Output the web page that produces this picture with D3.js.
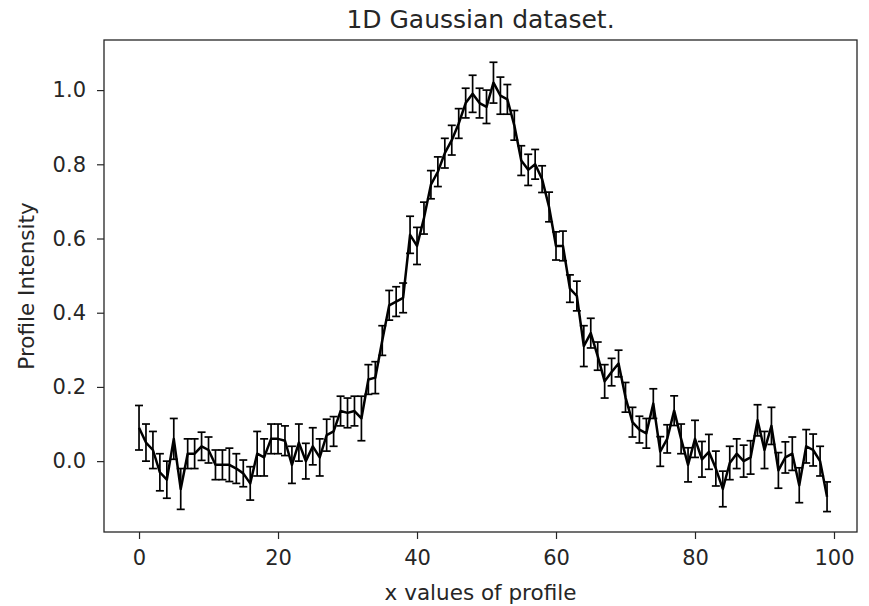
<!DOCTYPE html>
<html>
<head>
<meta charset="utf-8">
<script src="https://cdn.jsdelivr.net/npm/d3@7"></script>
<style>
  html, body { margin: 0; padding: 0; background: #fff; }
  svg { display: block; }
  text { font-family: "DejaVu Sans", sans-serif; fill: #262626; }
</style>
</head>
<body>
<svg id="chart" width="869" height="606"></svg>
<script>
// Profile positions (0..99)
const xValues = d3.range(100);

// Measured profile intensity at each position
const intensity = [
  0.09, 0.05, 0.03, -0.03, -0.05, 0.06, -0.075, 0.02, 0.02, 0.04,
  0.03, -0.01, -0.01, -0.01, -0.02, -0.033, -0.06, 0.02, 0.01, 0.06,
  0.06, 0.055, -0.01, 0.05, 0.0, 0.04, 0.01, 0.07, 0.08, 0.135,
  0.13, 0.135, 0.115, 0.22, 0.225, 0.325, 0.42, 0.43, 0.44, 0.61,
  0.58, 0.655, 0.745, 0.78, 0.83, 0.865, 0.91, 0.965, 0.99, 0.965,
  0.955, 1.02, 0.985, 0.975, 0.905, 0.81, 0.785, 0.80, 0.76, 0.685,
  0.58, 0.58, 0.465, 0.445, 0.31, 0.345, 0.283, 0.215, 0.24, 0.263,
  0.172, 0.105, 0.085, 0.075, 0.155, 0.026, 0.06, 0.136, 0.06, -0.01,
  0.06, 0.005, 0.025, -0.02, -0.075, -0.005, 0.02, 0.0, 0.01, 0.11,
  0.03, 0.095, -0.025, 0.01, 0.02, -0.065, 0.04, 0.03, 0.0, -0.096
];

// Symmetric uncertainty on each intensity
const errors = [
  0.06, 0.05, 0.05, 0.05, 0.05, 0.055, 0.055, 0.04, 0.04, 0.038,
  0.035, 0.04, 0.04, 0.045, 0.04, 0.036, 0.045, 0.06, 0.05, 0.04,
  0.04, 0.04, 0.05, 0.05, 0.048, 0.05, 0.05, 0.043, 0.04, 0.04,
  0.04, 0.04, 0.06, 0.04, 0.043, 0.04, 0.04, 0.04, 0.04, 0.05,
  0.05, 0.043, 0.038, 0.04, 0.04, 0.04, 0.04, 0.04, 0.05, 0.04,
  0.045, 0.055, 0.05, 0.04, 0.04, 0.04, 0.042, 0.04, 0.036, 0.04,
  0.038, 0.04, 0.037, 0.04, 0.055, 0.04, 0.038, 0.045, 0.037, 0.036,
  0.04, 0.04, 0.036, 0.04, 0.04, 0.04, 0.038, 0.04, 0.04, 0.046,
  0.05, 0.048, 0.047, 0.047, 0.048, 0.045, 0.04, 0.043, 0.045, 0.042,
  0.05, 0.05, 0.048, 0.042, 0.045, 0.047, 0.045, 0.043, 0.04, 0.04
];

const xTicks = [0, 20, 40, 60, 80, 100];
const yTicks = [0.0, 0.2, 0.4, 0.6, 0.8, 1.0];

const titleText = "1D Gaussian dataset.";
const xLabel = "x values of profile";
const yLabel = "Profile Intensity";

const data = xValues.map((x, i) => ({ x, y: intensity[i], e: errors[i] }));

const svg = d3.select("#chart");
const plot = { left: 104, top: 40, right: 857, bottom: 532 };

const x = d3.scaleLinear().domain([-5.04, 103.31]).range([plot.left, plot.right]);
const y = d3.scaleLinear().domain([-0.191, 1.135]).range([plot.bottom, plot.top]);

const tickFont = 21;
const labelFont = 21.5;

// Error bars with caps
const bars = svg.append("g").attr("stroke", "#000").attr("stroke-width", 1.7).attr("fill", "none");
const cap = 4;
bars.selectAll("line.err").data(data).join("line")
  .attr("class", "err")
  .attr("x1", d => x(d.x)).attr("x2", d => x(d.x))
  .attr("y1", d => y(d.y - d.e)).attr("y2", d => y(d.y + d.e));
bars.selectAll("line.capTop").data(data).join("line")
  .attr("class", "capTop")
  .attr("x1", d => x(d.x) - cap).attr("x2", d => x(d.x) + cap)
  .attr("y1", d => y(d.y + d.e)).attr("y2", d => y(d.y + d.e));
bars.selectAll("line.capBot").data(data).join("line")
  .attr("class", "capBot")
  .attr("x1", d => x(d.x) - cap).attr("x2", d => x(d.x) + cap)
  .attr("y1", d => y(d.y - d.e)).attr("y2", d => y(d.y - d.e));

// Profile line
svg.append("path")
  .datum(data)
  .attr("fill", "none")
  .attr("stroke", "#000")
  .attr("stroke-width", 2.5)
  .attr("stroke-linejoin", "round")
  .attr("d", d3.line().x(d => x(d.x)).y(d => y(d.y)));

// Axes
const xAxis = svg.append("g")
  .attr("transform", `translate(0,${plot.bottom})`)
  .call(d3.axisBottom(x).tickValues(xTicks).tickFormat(d3.format("d")).tickSize(7).tickPadding(11));
const yAxis = svg.append("g")
  .attr("transform", `translate(${plot.left},0)`)
  .call(d3.axisLeft(y).tickValues(yTicks).tickFormat(d3.format(".1f")).tickSize(7).tickPadding(11));

[xAxis, yAxis].forEach(g => {
  g.select(".domain").remove();
  g.selectAll(".tick line").attr("stroke", "#262626").attr("stroke-width", 1.2);
  g.selectAll(".tick text").attr("font-size", tickFont).attr("font-family", "DejaVu Sans").attr("fill", "#262626");
});

// Frame
svg.append("rect")
  .attr("x", plot.left).attr("y", plot.top)
  .attr("width", plot.right - plot.left).attr("height", plot.bottom - plot.top)
  .attr("fill", "none").attr("stroke", "#262626").attr("stroke-width", 1.3);

// Title and axis labels
svg.append("text")
  .attr("x", (plot.left + plot.right) / 2).attr("y", 28)
  .attr("text-anchor", "middle").attr("font-size", 25)
  .text(titleText);

svg.append("text")
  .attr("x", (plot.left + plot.right) / 2).attr("y", 600)
  .attr("text-anchor", "middle").attr("font-size", labelFont)
  .text(xLabel);

svg.append("text")
  .attr("transform", `translate(34,${(plot.top + plot.bottom) / 2}) rotate(-90)`)
  .attr("text-anchor", "middle").attr("font-size", labelFont)
  .text(yLabel);
</script>
</body>
</html>
